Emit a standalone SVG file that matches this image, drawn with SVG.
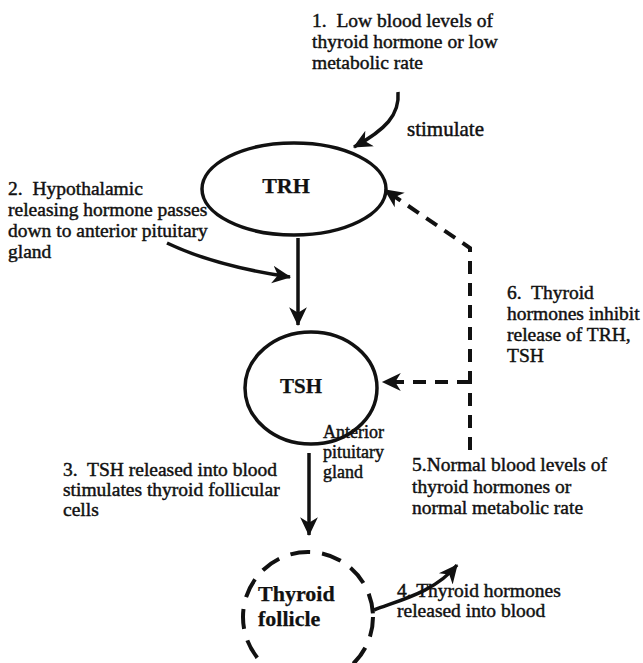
<svg xmlns="http://www.w3.org/2000/svg" width="643" height="663" viewBox="0 0 643 663">
<style>
  .t{font-family:"Liberation Serif","Times New Roman",serif;font-size:19.5px;fill:#111;stroke:#111;stroke-width:0.45}
  .s{font-size:18px}
  .b{font-weight:bold;font-size:22px;stroke-width:0.25}
  .node{fill:none;stroke:#111;stroke-width:3.5}
  .dashnode{fill:none;stroke:#111;stroke-width:4;stroke-dasharray:20 12}
  .arrow{fill:none;stroke:#111;stroke-width:3.5;marker-end:url(#ah)}
  .darrow{fill:none;stroke:#111;stroke-width:4;stroke-dasharray:13 9;marker-end:url(#ah)}
</style>
<defs>
  <marker id="ah" markerUnits="userSpaceOnUse" markerWidth="20" markerHeight="20" refX="16" refY="8" orient="auto" viewBox="0 0 18 16">
    <path d="M0,0 L17,8 L0,16 L5,8 z" fill="#111"/>
  </marker>
</defs>
<rect width="643" height="663" fill="#fff"/>

<g id="note1">
  <text class="t" x="312" y="27">1.&#160; Low blood levels of</text>
  <text class="t" x="312" y="48">thyroid hormone or low</text>
  <text class="t" x="312" y="69">metabolic rate</text>
</g>
<g id="stimulate-label">
  <text class="t" x="407" y="136" style="font-size:21px">stimulate</text>
</g>
<g id="note2">
  <text class="t" x="8" y="195">2.&#160; Hypothalamic</text>
  <text class="t" x="8" y="216">releasing hormone passes</text>
  <text class="t" x="8" y="237">down to anterior pituitary</text>
  <text class="t" x="8" y="258">gland</text>
</g>
<g id="TRH">
  <ellipse class="node" cx="294" cy="189" rx="92" ry="46"/>
  <text class="t b" x="286" y="193" text-anchor="middle">TRH</text>
</g>
<g id="TSH">
  <ellipse class="node" cx="311" cy="388" rx="66" ry="56"/>
  <text class="t b" x="301" y="393" text-anchor="middle" style="font-size:21px">TSH</text>
</g>
<g id="pituitary-label">
  <text class="t s" x="323" y="438">Anterior</text>
  <text class="t s" x="323" y="458">pituitary</text>
  <text class="t s" x="323" y="478">gland</text>
</g>
<g id="note6">
  <text class="t" x="507" y="299">6.&#160; Thyroid</text>
  <text class="t" x="507" y="320">hormones inhibit</text>
  <text class="t" x="507" y="341">release of TRH,</text>
  <text class="t" x="507" y="362">TSH</text>
</g>
<g id="note3">
  <text class="t" x="63" y="476">3.&#160; TSH released into blood</text>
  <text class="t" x="63" y="496">stimulates thyroid follicular</text>
  <text class="t" x="63" y="516">cells</text>
</g>
<g id="note5">
  <text class="t" x="412" y="471">5.Normal blood levels of</text>
  <text class="t" x="412" y="493">thyroid hormones or</text>
  <text class="t" x="412" y="514">normal metabolic rate</text>
</g>
<g id="follicle">
  <circle class="dashnode" cx="308" cy="617" r="65"/>
  <text class="t b" x="258" y="601">Thyroid</text>
  <text class="t b" x="258" y="626">follicle</text>
</g>
<g id="note4">
  <text class="t" x="397" y="597">4. Thyroid hormones</text>
  <text class="t" x="397" y="617">released into blood</text>
</g>

<g id="connectors">
  <path class="arrow" d="M398,92 C400,115 385,130 354,147"/>
  <path class="arrow" d="M167,243 Q215,266 290,277"/>
  <path class="arrow" d="M298,238 L298,325"/>
  <path class="arrow" d="M309,453 L309,535"/>
  <path class="arrow" d="M374,610 C400,600 435,592 457,565"/>
  <path class="darrow" d="M470,450 L470,248 L385,190"/>
  <path class="darrow" d="M470,382 L383,382"/>
</g>
</svg>
